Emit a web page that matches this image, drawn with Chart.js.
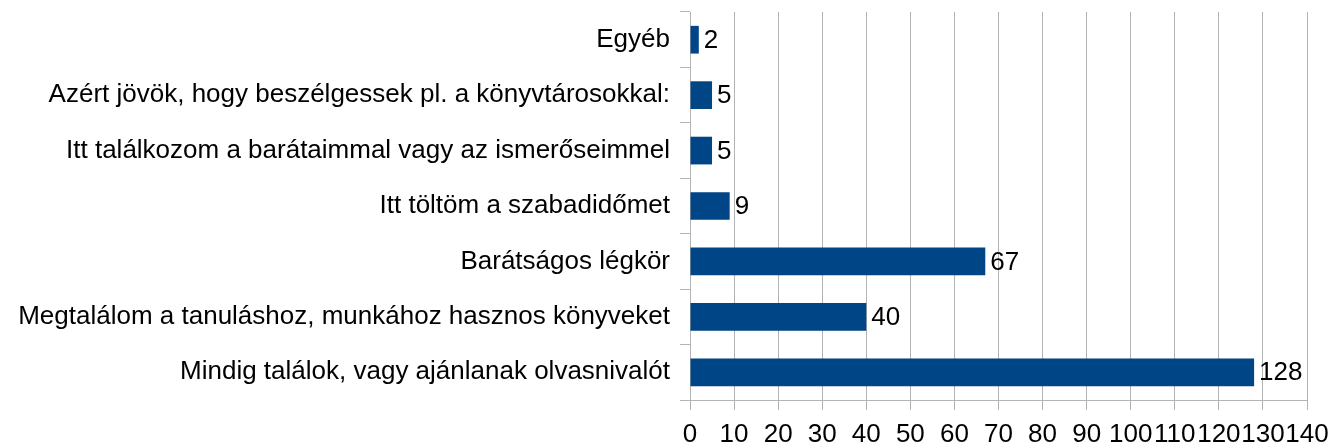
<!DOCTYPE html>
<html>
<head>
<meta charset="utf-8">
<script src="https://cdn.jsdelivr.net/npm/chart.js@4/dist/chart.umd.min.js"></script>
<style>
  html, body { margin: 0; padding: 0; background: #fff; }
  #wrap { width: 1332px; height: 444px; }
</style>
</head>
<body>
<div id="wrap"><canvas id="myChart"></canvas></div>
<script>
const categories = [
  'Egyéb',
  'Azért jövök, hogy beszélgessek pl. a könyvtárosokkal:',
  'Itt találkozom a barátaimmal vagy az ismerőseimmel',
  'Itt töltöm a szabadidőmet',
  'Barátságos légkör',
  'Megtalálom a tanuláshoz, munkához hasznos könyveket',
  'Mindig találok, vagy ajánlanak olvasnivalót',
];
const answers = [2, 5, 5, 9, 67, 40, 128];
const xMin = 0;
const xMax = 140;
const xStep = 10;

const fontFamily = '"Liberation Sans", Arial, sans-serif';
const fontSize = 26;

const valueLabels = {
  id: 'valueLabels',
  afterDatasetsDraw(chart) {
    const ctx = chart.ctx;
    const meta = chart.getDatasetMeta(0);
    ctx.save();
    ctx.font = fontSize + 'px ' + fontFamily;
    ctx.fillStyle = '#000';
    ctx.textAlign = 'left';
    ctx.textBaseline = 'middle';
    meta.data.forEach((bar, i) => {
      ctx.fillText(String(answers[i]), bar.x + 5, bar.y + 1);
    });
    ctx.restore();
  },
};

const ctx = document.getElementById('myChart').getContext('2d');
const chart = new Chart(ctx, {
  type: 'bar',
  data: {
    labels: categories,
    datasets: [{
      data: answers,
      backgroundColor: '#004586',
      borderWidth: 0,
      barPercentage: 0.5,
      categoryPercentage: 1,
    }],
  },
  options: {
    indexAxis: 'y',
    responsive: true,
    maintainAspectRatio: false,
    animation: false,
    layout: { padding: { top: 12, right: 25, left: 0, bottom: 0 } },
    plugins: {
      legend: { display: false },
      tooltip: { enabled: false },
    },
    scales: {
      x: {
        min: xMin,
        max: xMax,
        ticks: {
          stepSize: xStep,
          color: '#000',
          font: { family: fontFamily, size: fontSize },
          padding: 9,
          maxRotation: 0,
          autoSkip: false,
        },
        grid: { color: '#b3b3b3', tickLength: 10 },
        border: { color: '#b3b3b3' },
        afterFit(scale) {
          scale.height = 44;
          scale.paddingLeft = 0;
          scale.paddingRight = 0;
        },
      },
      y: {
        ticks: {
          color: '#000',
          font: { family: fontFamily, size: fontSize },
          padding: 10,
        },
        grid: { color: '#b3b3b3', tickLength: 10, drawOnChartArea: false, offset: true },
        border: { color: '#b3b3b3' },
        afterFit(scale) {
          scale.width = 690;
          scale.paddingTop = 0;
          scale.paddingBottom = 0;
        },
      },
    },
  },
  plugins: [valueLabels],
});
</script>
</body>
</html>
